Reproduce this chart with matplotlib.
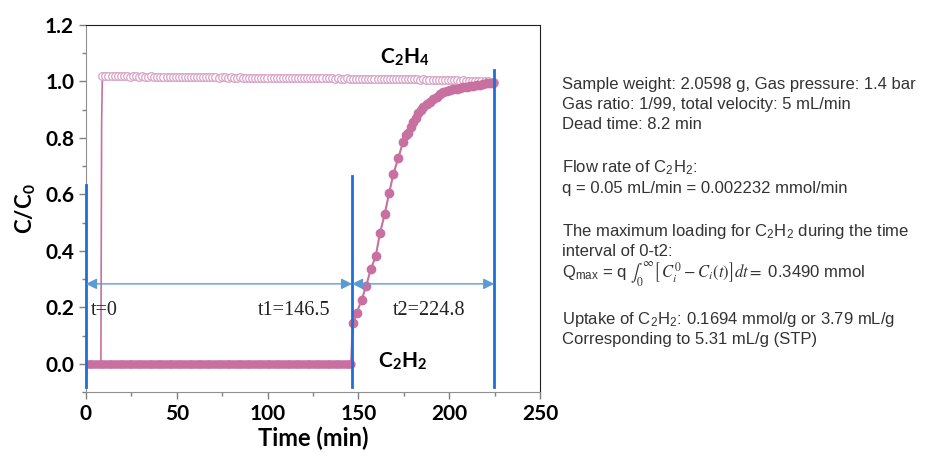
import numpy as np
import matplotlib
matplotlib.use("Agg")
import matplotlib.pyplot as plt
from matplotlib.ticker import MultipleLocator

plt.rcParams["mathtext.fontset"] = "stix"

# ---- breakthrough data ----
dead_time = 8.2

# C2H4: fast breakthrough right after the dead time, then a plateau
c2h4_front_time = [dead_time, 8.6]
c2h4_front_ratio = [0.0, 0.85]
c2h4_plateau_ratio = [
    1.018, 1.019, 1.018, 1.019, 1.018, 1.018, 1.019, 1.018, 1.018, 1.017,
    1.018, 1.018, 1.017, 1.018, 1.017, 1.017, 1.018, 1.017, 1.017, 1.016,
    1.017, 1.016, 1.017, 1.016, 1.016, 1.017, 1.016, 1.016, 1.015, 1.016,
    1.016, 1.015, 1.016, 1.015, 1.015, 1.016, 1.015, 1.015, 1.014, 1.015,
    1.015, 1.014, 1.015, 1.014, 1.014, 1.015, 1.014, 1.014, 1.013, 1.014,
    1.014, 1.013, 1.014, 1.013, 1.013, 1.014, 1.013, 1.013, 1.012, 1.013,
    1.013, 1.012, 1.013, 1.012, 1.012, 1.013, 1.012, 1.012, 1.011, 1.012,
    1.012, 1.011, 1.012, 1.011, 1.011, 1.011, 1.010, 1.011, 1.010, 1.010,
    1.011, 1.010, 1.010, 1.009, 1.010, 1.009, 1.009, 1.010, 1.009, 1.009,
    1.008, 1.009, 1.008, 1.008, 1.009, 1.008, 1.008, 1.007, 1.008, 1.007,
    1.007, 1.008, 1.007, 1.007, 1.006, 1.007, 1.006, 1.006, 1.006, 1.005,
    1.006, 1.005, 1.005, 1.004, 1.005, 1.004, 1.004, 1.003, 1.004, 1.003,
    1.003, 1.002, 1.002, 1.001, 1.001, 1.000, 1.000, 0.999, 0.999,
]
c2h4_plateau_time = np.linspace(9.0, 224.5, len(c2h4_plateau_ratio))

# C2H2: fully retained until t1, then breaks through
c2h2_base_time = np.arange(0.0, 147.0, 1.0)
c2h2_base_ratio = np.zeros(len(c2h2_base_time))
c2h2_rise_time = [
    146.6, 147.2, 149.0, 151.8, 154.2, 156.8, 159.5, 161.9, 164.5, 166.9,
    169.2, 172.0, 174.7, 176.0, 177.5, 179.0, 180.2, 181.5, 183.0, 184.3,
    185.7, 187.5, 189.4, 191.2, 193.1, 195.0, 196.8, 198.6, 200.4, 202.3,
    204.1, 206.0, 207.8, 209.6, 211.5, 213.3, 215.1, 217.0, 218.8, 220.6,
    222.5, 224.3,
]
c2h2_rise_ratio = [
    0.100, 0.144, 0.179, 0.227, 0.274, 0.335, 0.380, 0.463, 0.531, 0.604,
    0.671, 0.730, 0.787, 0.810, 0.819, 0.840, 0.858, 0.870, 0.887, 0.900,
    0.911, 0.920, 0.928, 0.937, 0.946, 0.955, 0.964, 0.966, 0.970, 0.972,
    0.975, 0.977, 0.979, 0.981, 0.983, 0.985, 0.987, 0.989, 0.991, 0.993,
    0.994, 0.996,
]

# time markers
t0, t1, t2 = 0.0, 146.5, 224.8
marker_tops = [0.632, 0.664, 1.04]
arrow_level = 0.283

x_ticks = [0, 50, 100, 150, 200, 250]
y_ticks = [0.0, 0.2, 0.4, 0.6, 0.8, 1.0, 1.2]

info_lines = [
    "Sample weight: 2.0598 g, Gas pressure: 1.4 bar",
    "Gas ratio: 1/99, total velocity: 5 mL/min",
    "Dead time: 8.2 min",
    r"Flow rate of C$_\mathregular{2}$H$_\mathregular{2}$:",
    "q = 0.05 mL/min = 0.002232 mmol/min",
    r"The maximum loading for C$_\mathregular{2}$H$_\mathregular{2}$ during the time",
    "interval of 0-t2:",
    r"Q$_\mathregular{max}$ = q $\int_0^\infty\left[\,C_i^0 - C_i(t)\right]dt = $ 0.3490 mmol",
    r"Uptake of C$_\mathregular{2}$H$_\mathregular{2}$: 0.1694 mmol/g or 3.79 mL/g",
    "Corresponding to 5.31 mL/g (STP)",
]
info_baselines_px = [89, 109, 129, 173, 193, 236, 256, 278, 324, 344]

# ---- styling ----
pink = "#C8709F"
pink_light = "#D9A3C6"
blue = "#1E6FD9"
arrow_blue = "#5B9BD5"
bold_font = "Lato"

W, H = 933, 459
fig = plt.figure(figsize=(W / 100, H / 100), dpi=100)
ax = fig.add_axes([86 / W, 1 - 392 / H, 454 / W, 367 / H])

# C2H4 trace with open circles
c2h4_time = np.concatenate((c2h4_front_time, c2h4_plateau_time))
c2h4_ratio = np.concatenate((c2h4_front_ratio, c2h4_plateau_ratio))
ax.plot(c2h4_time, c2h4_ratio, color=pink, lw=1.2, zorder=3)
ax.plot(c2h4_plateau_time, c2h4_plateau_ratio, ls="none", marker="o", ms=5.5,
        mfc="white", mec=pink_light, mew=0.9, zorder=4)

# C2H2 trace with filled circles
c2h2_time = np.concatenate((c2h2_base_time, c2h2_rise_time))
c2h2_ratio = np.concatenate((c2h2_base_ratio, c2h2_rise_ratio))
ax.plot(c2h2_time, c2h2_ratio, color=pink, lw=1.5, zorder=5)
ax.plot(c2h2_base_time, c2h2_base_ratio, ls="none", marker="o", ms=5,
        color=pink, mec=pink, zorder=5)
ax.plot(c2h2_rise_time[1:], c2h2_rise_ratio[1:], ls="none", marker="o", ms=6,
        color=pink, mec=pink, zorder=5)

# vertical time markers
for t, top in zip([t0, t1, t2], marker_tops):
    ax.plot([t, t], [-0.084, top], color=blue, lw=2, zorder=6, clip_on=False)

# double-headed interval arrows
for a, b in [(t0, t1), (t1, t2)]:
    ax.annotate("", xy=(b, arrow_level), xytext=(a, arrow_level),
                arrowprops=dict(arrowstyle="<|-|>", color=arrow_blue, lw=1.0,
                                mutation_scale=16, shrinkA=0, shrinkB=0),
                zorder=6)

serif = "Liberation Serif"
ax.text(2.5, 0.173, "t=0", fontsize=14.5, family=serif, color="#222222")
ax.text(134.5, 0.173, "t1=146.5", fontsize=14.5, family=serif, ha="right",
        color="#222222")
ax.text(169, 0.173, "t2=224.8", fontsize=14.5, family=serif, color="#222222")

ax.text(161.9, 1.065, r"C$_\mathregular{2}$H$_\mathregular{4}$", fontsize=15,
        family=bold_font, weight="bold")
ax.text(160.8, -0.014, r"C$_\mathregular{2}$H$_\mathregular{2}$", fontsize=15,
        family=bold_font, weight="bold")

ax.set_xlim(0, 250)
ax.set_ylim(-0.1, 1.2)
ax.set_xticks(x_ticks)
ax.set_yticks(y_ticks)
ax.set_yticklabels([f"{v:.1f}" for v in y_ticks])
ax.xaxis.set_minor_locator(MultipleLocator(25))
ax.yaxis.set_minor_locator(MultipleLocator(0.1))
ax.tick_params(which="major", direction="out", length=5, width=1,
               color="#808080", labelsize=15)
ax.tick_params(which="minor", direction="out", length=3, width=1,
               color="#808080")
for lab in ax.get_xticklabels() + ax.get_yticklabels():
    lab.set_family(bold_font)
    lab.set_weight("bold")

for side in ["left", "bottom"]:
    ax.spines[side].set_color("#909090")
for side in ["top", "right"]:
    ax.spines[side].set_color("#202020")

ax.set_xlabel("Time (min)", fontsize=17, family=bold_font, weight="bold",
              labelpad=2)
ax.set_ylabel(r"C/C$_\mathregular{0}$", fontsize=16, family=bold_font,
              weight="bold", labelpad=6)

for line, ypx in zip(info_lines, info_baselines_px):
    fig.text(562 / W, 1 - ypx / H, line, fontsize=12, family="Liberation Sans",
             color="#333333", va="baseline")

fig.savefig("out.png", dpi=100)
